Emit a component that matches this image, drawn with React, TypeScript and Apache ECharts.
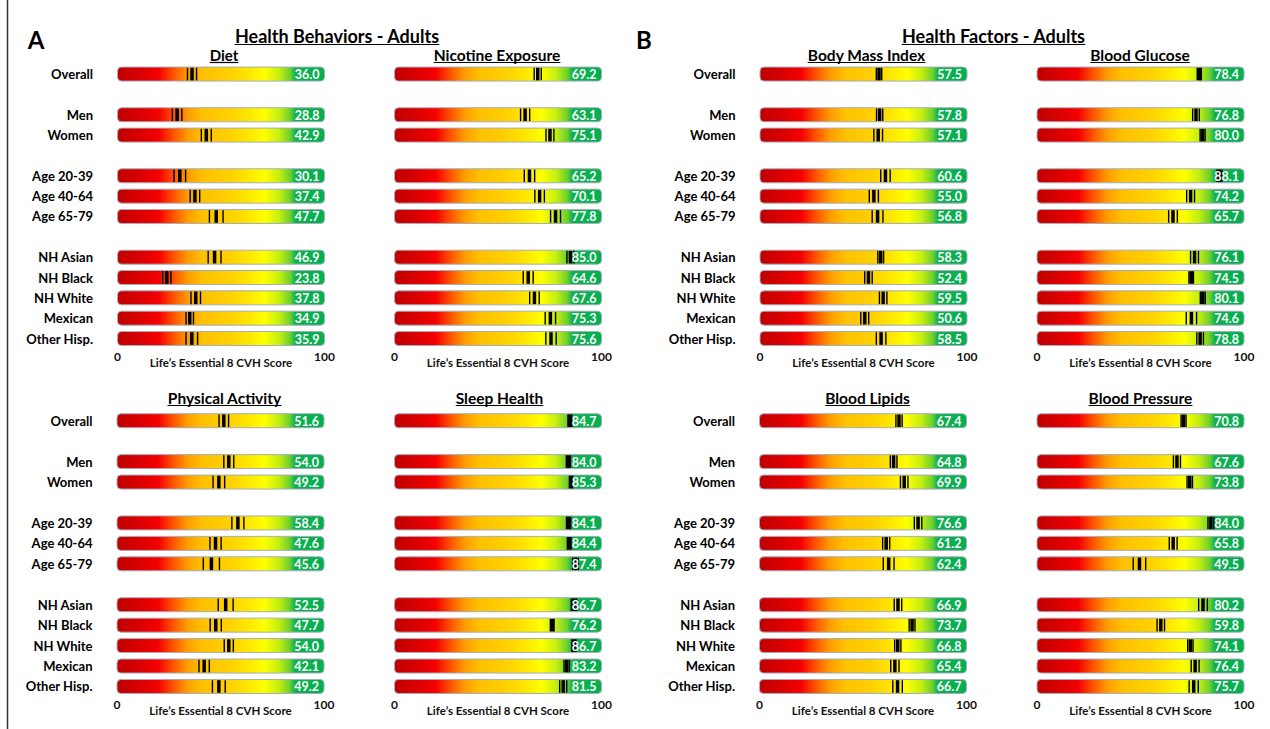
import React, { useEffect, useRef } from "react";
import * as echarts from "echarts";

// ---------- data ----------
const rowLabels = ["Overall", "Men", "Women", "Age 20-39", "Age 40-64", "Age 65-79", "NH Asian", "NH Black", "NH White", "Mexican", "Other Hisp."];
const groupSizes = [1, 2, 3, 5];

const dietValues = [36.0, 28.8, 42.9, 30.1, 37.4, 47.7, 46.9, 23.8, 37.8, 34.9, 35.9];
const dietLower = [33.8, 26.5, 40.5, 27.3, 35.1, 44.4, 43.8, 21.8, 35.5, 33.1, 33.1];
const dietUpper = [38.2, 31.1, 45.3, 32.9, 39.7, 51.0, 50.0, 25.8, 40.1, 36.7, 38.7];

const nicotineValues = [69.2, 63.1, 75.1, 65.2, 70.1, 77.8, 85.0, 64.6, 67.6, 75.3, 75.6];
const nicotineLower = [67.5, 60.9, 73.2, 62.7, 67.8, 75.4, 83.3, 62.2, 65.3, 72.8, 73.1];
const nicotineUpper = [70.9, 65.3, 77.0, 67.7, 72.4, 80.2, 86.7, 67.0, 69.9, 77.8, 78.1];

const bmiValues = [57.5, 57.8, 57.1, 60.6, 55.0, 56.8, 58.3, 52.4, 59.5, 50.6, 58.5];
const bmiLower = [56.2, 56.3, 55.0, 58.3, 52.8, 54.2, 56.9, 50.6, 57.7, 48.7, 56.2];
const bmiUpper = [58.8, 59.3, 59.2, 62.9, 57.2, 59.4, 59.7, 54.2, 61.3, 52.5, 60.8];

const glucoseValues = [78.4, 76.8, 80.0, 88.1, 74.2, 65.7, 76.1, 74.5, 80.1, 74.6, 78.8];
const glucoseLower = [77.4, 75.2, 78.8, 86.9, 72.3, 63.6, 74.2, 73.4, 78.9, 72.1, 77.2];
const glucoseUpper = [79.4, 78.4, 81.2, 89.3, 76.1, 67.8, 78.0, 75.6, 81.3, 77.1, 80.4];

const activityValues = [51.6, 54.0, 49.2, 58.4, 47.6, 45.6, 52.5, 47.7, 54.0, 42.1, 49.2];
const activityLower = [49.3, 51.6, 46.4, 55.5, 44.9, 41.7, 48.9, 45.0, 51.8, 39.6, 46.1];
const activityUpper = [53.9, 56.4, 52.0, 61.3, 50.3, 49.5, 56.1, 50.4, 56.2, 44.6, 52.3];

const sleepValues = [84.7, 84.0, 85.3, 84.1, 84.4, 87.4, 86.7, 76.2, 86.7, 83.2, 81.5];
const sleepLower = [83.8, 83.0, 84.5, 83.1, 83.5, 86.0, 85.4, 75.3, 85.7, 81.9, 79.8];
const sleepUpper = [85.6, 85.0, 86.1, 85.1, 85.3, 88.8, 88.0, 77.1, 87.7, 84.5, 83.2];

const lipidsValues = [67.4, 64.8, 69.9, 76.6, 61.2, 62.4, 66.9, 73.7, 66.8, 65.4, 66.7];
const lipidsLower = [65.9, 63.2, 68.1, 74.8, 59.5, 59.8, 65.1, 72.3, 65.3, 63.4, 64.4];
const lipidsUpper = [68.9, 66.4, 71.7, 78.4, 62.9, 65.0, 68.7, 75.1, 68.3, 67.4, 69.0];

const pressureValues = [70.8, 67.6, 73.8, 84.0, 65.8, 49.5, 80.2, 59.8, 74.1, 76.4, 75.7];
const pressureLower = [69.6, 65.9, 72.5, 82.6, 63.9, 46.5, 78.1, 58.0, 72.8, 74.5, 73.5];
const pressureUpper = [72.0, 69.3, 75.1, 85.4, 67.7, 52.5, 82.3, 61.6, 75.4, 78.3, 77.9];

const axisTitle = "Life\u2019s Essential 8 CVH Score";

// ---------- layout ----------
const FONT = "Lato";
const TOP = { top: 63.9, height: 284.8 };
const BOT = { top: 410.5, height: 286.2 };

const panels = [
  { title: "Diet", v: dietValues, lo: dietLower, hi: dietUpper, left: 117.5, band: TOP, labels: true, cx: 224, ty: 55 },
  { title: "Nicotine Exposure", v: nicotineValues, lo: nicotineLower, hi: nicotineUpper, left: 394.5, band: TOP, labels: false, cx: 497, ty: 55 },
  { title: "Body Mass Index", v: bmiValues, lo: bmiLower, hi: bmiUpper, left: 760, band: TOP, labels: true, cx: 866.5, ty: 55 },
  { title: "Blood Glucose", v: glucoseValues, lo: glucoseLower, hi: glucoseUpper, left: 1037, band: TOP, labels: false, cx: 1140, ty: 55 },
  { title: "Physical Activity", v: activityValues, lo: activityLower, hi: activityUpper, left: 117, band: BOT, labels: true, cx: 224.5, ty: 398 },
  { title: "Sleep Health", v: sleepValues, lo: sleepLower, hi: sleepUpper, left: 394.5, band: BOT, labels: false, cx: 499.5, ty: 398 },
  { title: "Blood Lipids", v: lipidsValues, lo: lipidsLower, hi: lipidsUpper, left: 759.5, band: BOT, labels: true, cx: 867.5, ty: 398 },
  { title: "Blood Pressure", v: pressureValues, lo: pressureLower, hi: pressureUpper, left: 1037, band: BOT, labels: false, cx: 1140.5, ty: 398 },
];

function buildSlots() {
  const slots: string[] = [];
  const rowSlot: number[] = [];
  let r = 0;
  groupSizes.forEach((size, g) => {
    if (g > 0) slots.push("gap" + g);
    for (let i = 0; i < size; i++) {
      rowSlot.push(slots.length);
      slots.push(rowLabels[r++]);
    }
  });
  return { slots, rowSlot };
}

function measure(text: string, font: string) {
  const ctx = document.createElement("canvas").getContext("2d");
  if (!ctx) return text.length * 7;
  ctx.font = font;
  return ctx.measureText(text).width;
}

function titleWithUnderline(text: string, cx: number, cy: number, size: number) {
  const font = `bold ${size}px ${FONT}`;
  const w = measure(text, font);
  const uy = Math.round(cy + size * 0.45) + 0.5;
  return [
    {
      type: "text",
      x: cx,
      y: cy,
      style: { text, fill: "#000", fontFamily: FONT, fontWeight: "bold", fontSize: size, align: "center", verticalAlign: "middle" },
    },
    {
      type: "line",
      shape: { x1: cx - w / 2, y1: uy, x2: cx + w / 2, y2: uy },
      style: { stroke: "#000", lineWidth: 1.2 },
    },
  ];
}

export default function App() {
  const ref = useRef<HTMLDivElement>(null);
  useEffect(() => {
    if (!ref.current) return;
    const chart = echarts.init(ref.current, undefined, { renderer: "svg" });
    const { slots, rowSlot } = buildSlots();

    const gradient = new echarts.graphic.LinearGradient(0, 0, 1, 0, [
      { offset: 0, color: "#bf0000" },
      { offset: 0.1, color: "#d80000" },
      { offset: 0.2, color: "#f50000" },
      { offset: 0.27, color: "#ff5200" },
      { offset: 0.34, color: "#ff9c00" },
      { offset: 0.41, color: "#ffc000" },
      { offset: 0.55, color: "#ffd200" },
      { offset: 0.64, color: "#ffe800" },
      { offset: 0.71, color: "#ffff00" },
      { offset: 0.78, color: "#c6ef10" },
      { offset: 0.835, color: "#6cd02c" },
      { offset: 0.86, color: "#10b050" },
      { offset: 1, color: "#00b050" },
    ]);

    const grids: any[] = [];
    const xAxes: any[] = [];
    const yAxes: any[] = [];
    const series: any[] = [];
    let graphics: any[] = [];

    panels.forEach((p, i) => {
      grids.push({ left: p.left, width: 207, top: p.band.top, height: p.band.height });
      xAxes.push({
        gridIndex: i,
        type: "value",
        min: 0,
        max: 100,
        interval: 100,
        axisLine: { show: false },
        axisTick: { show: false },
        splitLine: { show: false },
        axisLabel: { show: true, margin: 1.5, fontFamily: FONT, fontWeight: "bold", fontSize: 12, color: "#111" },
        name: axisTitle,
        nameLocation: "middle",
        nameGap: 7.5,
        nameMoveOverlap: false,
        nameTextStyle: { fontFamily: FONT, fontWeight: "bold", fontSize: 11.5, color: "#111", verticalAlign: "top" },
      });
      yAxes.push({
        gridIndex: i,
        type: "category",
        inverse: true,
        data: slots,
        axisLine: { show: false },
        axisTick: { show: false },
        splitLine: { show: false },
        axisLabel: {
          show: p.labels,
          margin: 24.5,
          fontFamily: FONT,
          fontWeight: "bold",
          fontSize: 13,
          color: "#000",
          formatter: (val: string) => (val.startsWith("gap") ? "" : val),
        },
      });
      series.push({
        type: "custom",
        xAxisIndex: i,
        yAxisIndex: i,
        encode: { x: [0, 1, 2], y: 3 },
        data: p.v.map((v, k) => [v, p.lo[k], p.hi[k], rowSlot[k]]),
        renderItem: (params: any, api: any) => {
          const slot = api.value(3);
          const v = api.value(0);
          const lo = api.value(1);
          const hi = api.value(2);
          const s = api.coord([0, slot]);
          const e = api.coord([100, slot]);
          const cy = s[1];
          const h = 14;
          const y = cy - h / 2;
          const pv = api.coord([v, slot])[0];
          const plo = api.coord([lo, slot])[0];
          const phi = api.coord([hi, slot])[0];
          return {
            type: "group",
            children: [
              {
                type: "rect",
                shape: { x: s[0], y, width: e[0] - s[0], height: h, r: 4 },
                style: { fill: gradient, stroke: "#a4aebd", lineWidth: 1 },
              },
              { type: "rect", shape: { x: plo - 0.7, y: y + 0.7, width: 1.4, height: h - 1.4 }, style: { fill: "#000" } },
              { type: "rect", shape: { x: phi - 0.7, y: y + 0.7, width: 1.4, height: h - 1.4 }, style: { fill: "#000" } },
              { type: "rect", shape: { x: pv - 1.75, y: y + 0.7, width: 3.5, height: h - 1.4 }, style: { fill: "#000" } },
              {
                type: "text",
                x: e[0] - 5,
                y: cy + 0.5,
                style: {
                  text: v.toFixed(1),
                  fill: "#fff",
                  fontFamily: FONT,
                  fontWeight: "bold",
                  fontSize: 12.5,
                  align: "right",
                  verticalAlign: "middle",
                },
              },
            ],
          };
        },
      });
      graphics = graphics.concat(titleWithUnderline(p.title, p.cx, p.ty, p.title === "Diet" ? 15 : 15.5));
    });

    graphics = graphics.concat(titleWithUnderline("Health Behaviors - Adults", 337, 35.5, 18));
    graphics = graphics.concat(titleWithUnderline("Health Factors - Adults", 993.5, 35.5, 18));
    graphics.push({
      type: "text",
      x: 36,
      y: 39,
      style: { text: "A", fill: "#000", fontFamily: FONT, fontWeight: "bold", fontSize: 24, align: "center", verticalAlign: "middle" },
    });
    graphics.push({
      type: "text",
      x: 644,
      y: 39,
      style: { text: "B", fill: "#000", fontFamily: FONT, fontWeight: "bold", fontSize: 24, align: "center", verticalAlign: "middle" },
    });
    graphics.push({
      type: "line",
      shape: { x1: 7.5, y1: 0, x2: 7.5, y2: 729 },
      style: { stroke: "#333", lineWidth: 1.5 },
    });

    chart.setOption({
      animation: false,
      backgroundColor: "#fff",
      textStyle: { fontFamily: FONT },
      grid: grids,
      xAxis: xAxes,
      yAxis: yAxes,
      series,
      graphic: { elements: graphics },
    });
    return () => chart.dispose();
  }, []);
  return <div ref={ref} style={{ position: "fixed", left: 0, top: 0, width: 1270, height: 729 }} />;
}
